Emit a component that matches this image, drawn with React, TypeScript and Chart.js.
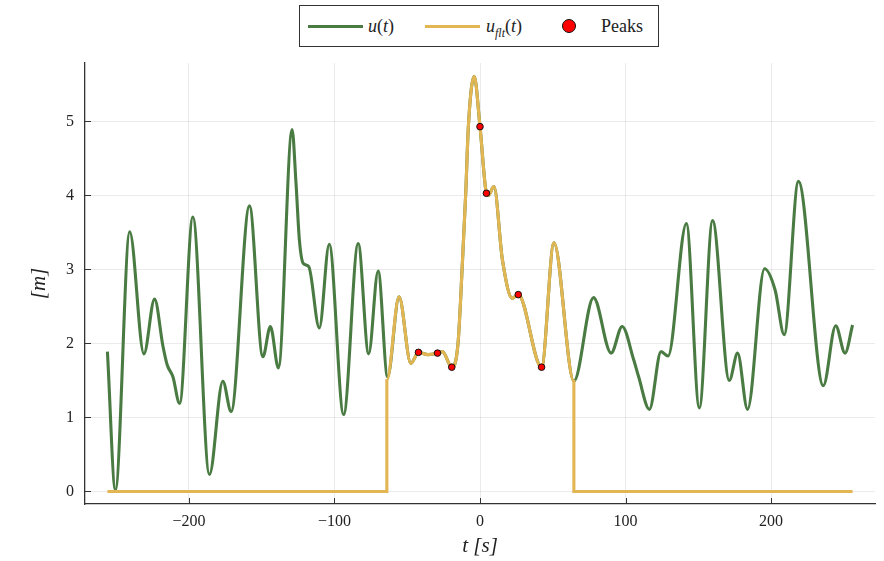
import React, { useEffect, useRef } from 'react';
import { Chart, registerables } from 'chart.js';

Chart.register(...registerables);

// raw signal u(t)
const tRaw = [-256, -250.5, -240.7, -230.9, -223.6, -217.8, -214.9, -211, -206.4, -197.3, -185.9, -176.7, -171, -158.4, -149.2, -144, -138.5, -129.1, -126.4, -124.1, -121.4, -117.7, -110.4, -103.6, -93.7, -83.7, -76.5, -70, -63.5, -55.6, -47.5, -42.3, -35.7, -29.2, -25.8, -19.4, -15.1, -12, -9.8, -8, -4, 0, 4.4, 5.6, 9.6, 15.4, 22.2, 26.3, 42.3, 50.8, 64.5, 78, 90.1, 97.7, 105.6, 109, 116.4, 124.4, 129.2, 141.8, 150.7, 159.8, 171.3, 177, 183.8, 195.5, 202.8, 209, 218.8, 235.9, 244.4, 250.8, 256];
const uRaw = [1.89, 0.02, 3.51, 1.86, 2.60, 1.96, 1.71, 1.55, 1.19, 3.71, 0.23, 1.49, 1.08, 3.86, 1.82, 2.23, 1.67, 4.89, 4.16, 3.40, 3.08, 3.04, 2.21, 3.34, 1.04, 3.35, 1.86, 2.98, 1.55, 2.63, 1.73, 1.88, 1.85, 1.87, 1.89, 1.68, 2.0, 3.13, 4.03, 4.93, 5.61, 4.93, 4.03, 4.00, 4.12, 3.13, 2.61, 2.66, 1.68, 3.36, 1.49, 2.62, 1.87, 2.23, 1.78, 1.55, 1.11, 1.89, 1.83, 3.62, 1.13, 3.66, 1.50, 1.87, 1.11, 3.01, 2.72, 2.12, 4.19, 1.43, 2.24, 1.87, 2.25];

// filtered signal u_flt(t)
const tFlt = [-256, -64, -64, -55.6, -47.5, -42.3, -35.7, -29.2, -25.8, -19.4, -15.1, -12, -9.8, -8, -4, 0, 4.4, 5.6, 9.6, 15.4, 22.2, 26.3, 42.3, 50.8, 64.5, 64.5, 256];
const uFlt = [0, 0, 1.5, 2.63, 1.73, 1.88, 1.85, 1.87, 1.89, 1.68, 2.0, 3.13, 4.03, 4.93, 5.61, 4.93, 4.03, 4.00, 4.12, 3.13, 2.61, 2.66, 1.68, 3.36, 1.49, 0, 0];

// detected peaks
const tPeaks = [-42.3, -29.2, -19.4, 0, 4.4, 26.3, 42.3];
const uPeaks = [1.88, 1.87, 1.68, 4.93, 4.03, 2.66, 1.68];

const xTicks = [-200, -100, 0, 100, 200];
const yTicks = [0, 1, 2, 3, 4, 5];

const GREEN = '#4a7b43';
const GOLD = '#e2b653';
const FONT = '"Liberation Serif", "Times New Roman", serif';

const innerTicks = {
  id: 'innerTicks',
  afterDraw(chart: any) {
    const { ctx, chartArea, scales } = chart;
    ctx.save();
    ctx.strokeStyle = '#333';
    ctx.lineWidth = 1;
    scales.x.ticks.forEach((t: any) => {
      const px = Math.round(scales.x.getPixelForValue(t.value)) + 0.5;
      ctx.beginPath();
      ctx.moveTo(px, chartArea.bottom);
      ctx.lineTo(px, chartArea.bottom - 6);
      ctx.stroke();
    });
    scales.y.ticks.forEach((t: any) => {
      const py = Math.round(scales.y.getPixelForValue(t.value)) + 0.5;
      ctx.beginPath();
      ctx.moveTo(chartArea.left, py);
      ctx.lineTo(chartArea.left + 6, py);
      ctx.stroke();
    });
    ctx.restore();
  },
};

export default function App() {
  const ref = useRef<HTMLCanvasElement | null>(null);

  useEffect(() => {
    if (!ref.current) return;
    const rawData = tRaw.map((t, i) => ({ x: t, y: uRaw[i] }));
    const fltData = tFlt.map((t, i) => ({ x: t, y: uFlt[i] }));
    const peakData = tPeaks.map((t, i) => ({ x: t, y: uPeaks[i] }));

    const chart = new Chart(ref.current, {
      type: 'line',
      data: {
        datasets: [
          {
            label: 'Peaks',
            data: peakData,
            showLine: false,
            pointRadius: 3.3,
            pointBackgroundColor: '#ff0000',
            pointBorderColor: '#111',
            pointBorderWidth: 1,
            order: 0,
          },
          {
            label: 'u_flt(t)',
            data: fltData,
            borderColor: GOLD,
            borderWidth: 3.1,
            pointRadius: 0,
            cubicInterpolationMode: 'monotone',
            order: 1,
          },
          {
            label: 'u(t)',
            data: rawData,
            borderColor: GREEN,
            borderWidth: 3.1,
            pointRadius: 0,
            cubicInterpolationMode: 'monotone',
            order: 2,
          },
        ],
      },
      options: {
        animation: false,
        responsive: true,
        maintainAspectRatio: false,
        layout: { padding: { left: 0, right: 9, top: 63, bottom: 0 } },
        plugins: {
          legend: { display: false },
          tooltip: { enabled: false },
        },
        scales: {
          x: {
            type: 'linear',
            min: -271.4,
            max: 271.4,
            afterBuildTicks: (s: any) => {
              s.ticks = xTicks.map((v) => ({ value: v }));
            },
            afterFit: (s: any) => {
              s.height = 57;
            },
            grid: { color: 'rgba(0,0,0,0.08)', lineWidth: 1, drawTicks: false },
            border: { display: true, color: '#333', width: 1.3 },
            ticks: {
              padding: 8,
              color: '#222',
              font: { family: FONT, size: 16 },
              callback: (v: any) => (v < 0 ? '\u2212' + Math.abs(v) : String(v)),
            },
            title: {
              display: true,
              text: 't [s]',
              color: '#222',
              font: { family: FONT, size: 21, style: 'italic' },
              padding: { top: 0, bottom: 2 },
            },
          },
          y: {
            type: 'linear',
            min: -0.169,
            max: 5.79,
            afterBuildTicks: (s: any) => {
              s.ticks = yTicks.map((v) => ({ value: v }));
            },
            afterFit: (s: any) => {
              s.width = 85;
            },
            grid: { color: 'rgba(0,0,0,0.08)', lineWidth: 1, drawTicks: false },
            border: { display: true, color: '#333', width: 1.3 },
            ticks: {
              padding: 11,
              color: '#222',
              font: { family: FONT, size: 16 },
            },
            title: {
              display: true,
              text: '[m]',
              color: '#222',
              font: { family: FONT, size: 21, style: 'italic' },
              padding: { top: 27, bottom: 0 },
            },
          },
        },
      },
      plugins: [innerTicks],
    });
    return () => chart.destroy();
  }, []);

  const lineStyle = (color: string, left: number) => ({
    position: 'absolute' as const,
    left,
    top: 19,
    width: 55,
    height: 3,
    background: color,
  });
  const textStyle = (left: number) => ({
    position: 'absolute' as const,
    left,
    top: 0,
    height: 40,
    lineHeight: '40px',
    whiteSpace: 'nowrap' as const,
    color: '#222',
  });

  return (
    <div style={{ position: 'fixed', left: 0, top: 0, width: 884, height: 561, background: '#fff' }}>
      <canvas ref={ref} style={{ width: '100%', height: '100%' }} />
      <div
        style={{
          position: 'absolute',
          left: 299,
          top: 5,
          width: 360,
          height: 42,
          border: '1.5px solid #333',
          boxSizing: 'border-box',
          background: '#fff',
          fontFamily: FONT,
          fontSize: 18,
        }}
      >
        <div style={lineStyle(GREEN, 8)} />
        <span style={textStyle(68)}>
          <i>u</i>(<i>t</i>)
        </span>
        <div style={lineStyle(GOLD, 125)} />
        <span style={textStyle(186)}>
          <i>u</i>
          <sub style={{ fontSize: 12 }}>
            <i>flt</i>
          </sub>
          (<i>t</i>)
        </span>
        <div
          style={{
            position: 'absolute',
            left: 262,
            top: 13,
            width: 12,
            height: 12,
            borderRadius: '50%',
            background: '#ff0000',
            border: '1.5px solid #111',
          }}
        />
        <span style={textStyle(301)}>Peaks</span>
      </div>
    </div>
  );
}
